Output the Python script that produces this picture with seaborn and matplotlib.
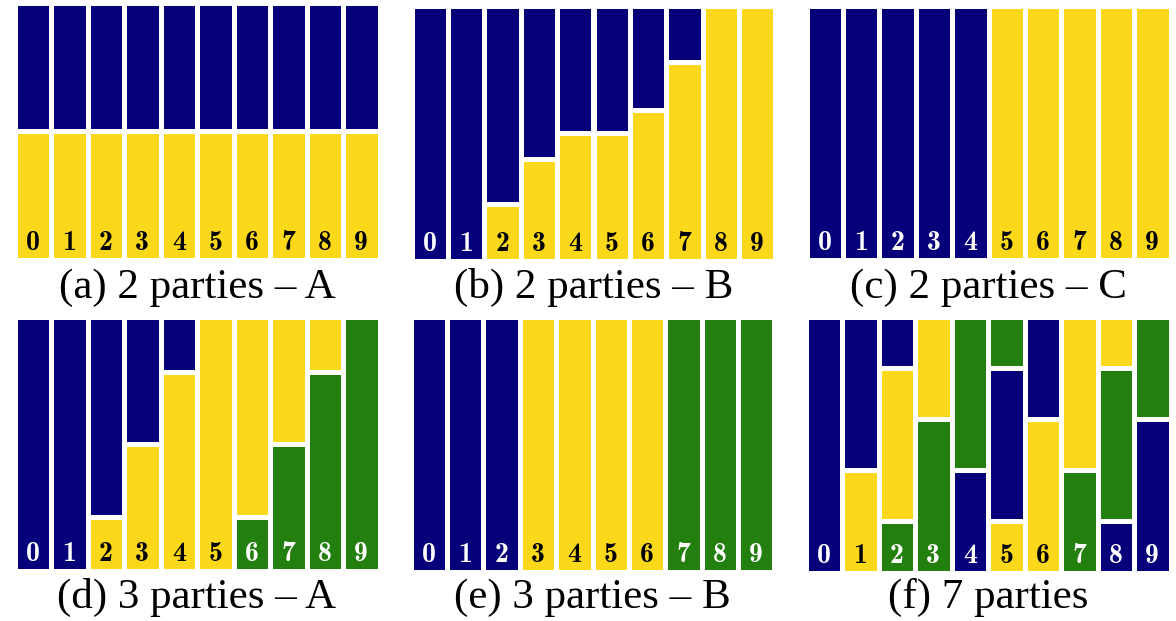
import seaborn as sns
import numpy as np
import pandas as pd
import matplotlib.pyplot as plt

# party codes: N = navy, Y = yellow, G = green
PARTY_COLORS = {'N': '#06007a', 'Y': '#fcd81b', 'G': '#23800f'}
LABEL_COLORS = {'N': 'white', 'Y': 'black', 'G': 'white'}

BARS = list(range(10))

# segments of each bar, listed from bottom to top
a_parties = [['Y', 'N']] * 10
a_shares = [[0.5, 0.5]] * 10

b_parties = [['N'], ['N'], ['Y', 'N'], ['Y', 'N'], ['Y', 'N'],
             ['Y', 'N'], ['Y', 'N'], ['Y', 'N'], ['Y'], ['Y']]
b_shares = [[1], [1], [0.22, 0.78], [0.40, 0.60], [0.50, 0.50],
            [0.50, 0.50], [0.59, 0.41], [0.78, 0.22], [1], [1]]

c_parties = [['N']] * 5 + [['Y']] * 5
c_shares = [[1]] * 10

d_parties = [['N'], ['N'], ['Y', 'N'], ['Y', 'N'], ['Y', 'N'],
             ['Y'], ['G', 'Y'], ['G', 'Y'], ['G', 'Y'], ['G']]
d_shares = [[1], [1], [0.21, 0.79], [0.50, 0.50], [0.78, 0.22],
            [1], [0.21, 0.79], [0.50, 0.50], [0.78, 0.22], [1]]

e_parties = [['N']] * 3 + [['Y']] * 4 + [['G']] * 3
e_shares = [[1]] * 10

f_parties = [['N'], ['Y', 'N'], ['G', 'Y', 'N'], ['G', 'Y'], ['N', 'G'],
             ['Y', 'N', 'G'], ['Y', 'N'], ['G', 'Y'], ['N', 'G', 'Y'], ['N', 'G']]
f_shares = [[1], [0.40, 0.60], [0.20, 0.60, 0.20], [0.60, 0.40], [0.40, 0.60],
            [0.20, 0.60, 0.20], [0.60, 0.40], [0.40, 0.60], [0.20, 0.60, 0.20], [0.60, 0.40]]

captions = ['(a) 2 parties \u2013 A', '(b) 2 parties \u2013 B', '(c) 2 parties \u2013 C',
            '(d) 3 parties \u2013 A', '(e) 3 parties \u2013 B', '(f) 7 parties']

panels = [(a_parties, a_shares), (b_parties, b_shares), (c_parties, c_shares),
          (d_parties, d_shares), (e_parties, e_shares), (f_parties, f_shares)]

# visible panel boxes in pixels (x0, x1, y0, y1), top-left origin
boxes = [(17, 377, 5, 257), (414, 773, 8, 258), (809, 1168, 8, 257),
         (17, 377, 319, 568), (413, 772, 319, 569), (808, 1168, 319, 570)]
caption_y = [298, 298, 298, 608, 608, 608]

W, H = 1176, 621
LW = 3.6                 # white gap, points
E = LW * 100 / 72 / 2    # half gap in pixels

sns.set_style('white')

fig = plt.figure(figsize=(W / 100, H / 100), dpi=100)


def stack_frame(parties, shares):
    # one row per cumulative bar, drawn from the top segment downwards
    rows = []
    for bar, (ps, ss) in enumerate(zip(parties, shares)):
        cum = np.cumsum(ss)
        for k in range(len(ps)):
            level = len(ps) - 1 - k
            rows.append({'bar': bar, 'level': level, 'cum': cum[k], 'party': ps[k]})
    return pd.DataFrame(rows)


for (parties, shares), (x0, x1, y0, y1), cap, cy in zip(panels, boxes, captions, caption_y):
    rect = [(x0 - E) / W, (H - y1 - E) / H, (x1 - x0 + 2 * E) / W, (y1 - y0 + 2 * E) / H]
    ax = fig.add_axes(rect)
    df = stack_frame(parties, shares)
    for level in sorted(df['level'].unique()):
        sub = df[df['level'] == level]
        sns.barplot(data=sub, x='bar', y='cum', hue='party', order=BARS,
                    palette=PARTY_COLORS, dodge=False, width=1.0, saturation=1,
                    errorbar=None, legend=False, edgecolor='white', linewidth=LW, ax=ax)
    ax.set_xlim(-0.5, 9.5)
    ax.set_ylim(0, 1)
    ax.axis('off')

    for bar in BARS:
        ax.annotate(str(bar), xy=(bar, 0), xycoords=('data', 'axes fraction'),
                    xytext=(0, (E + 7) * 0.72), textcoords='offset points',
                    ha='center', va='baseline', fontsize=20, family='cmb10',
                    color=LABEL_COLORS[parties[bar][0]])

    fig.text((x0 + x1) / 2 / W, (H - cy) / H, cap, ha='center', va='baseline',
             family=['Liberation Serif', 'DejaVu Serif'], fontsize=31, color='black')

fig.savefig('out.png', dpi=100, facecolor='white')
